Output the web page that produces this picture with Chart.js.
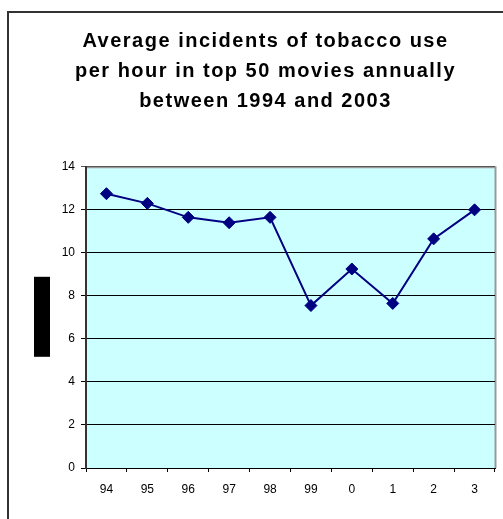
<!DOCTYPE html>
<html>
<head>
<meta charset="utf-8">
<script src="https://cdn.jsdelivr.net/npm/chart.js@4.4.1/dist/chart.umd.min.js"></script>
<style>
  html, body { margin: 0; padding: 0; overflow: hidden; background: #fff; }
  #frame { position: absolute; left: 7px; top: 11px; width: 600px; height: 600px; border: 2px solid #333; box-sizing: border-box; }
  #c { position: absolute; left: 0; top: 0; }
</style>
</head>
<body>
<div id="frame"></div>
<canvas id="c" width="503" height="519"></canvas>
<script>
const titleLines = [
  'Average incidents of tobacco use',
  'per hour in top 50 movies annually',
  'between 1994 and 2003'
];
const years = ['94', '95', '96', '97', '98', '99', '0', '1', '2', '3'];
const incidents = [12.75, 12.3, 11.65, 11.4, 11.65, 7.55, 9.25, 7.65, 10.65, 12.0];
const yTicks = [0, 2, 4, 6, 8, 10, 12, 14];

const plotBg = {
  id: 'plotBg',
  beforeDraw(chart) {
    const { ctx, chartArea: a } = chart;
    ctx.save();
    ctx.fillStyle = '#CCFFFF';
    ctx.fillRect(a.left, a.top, a.right - a.left, a.bottom - a.top);
    ctx.strokeStyle = '#999999';
    ctx.lineWidth = 2;
    ctx.beginPath();
    ctx.moveTo(a.left, a.top + 0.5);
    ctx.lineTo(a.right + 0.5, a.top + 0.5);
    ctx.lineTo(a.right + 0.5, a.bottom);
    ctx.stroke();
    // redaction block over the vertical axis title
    ctx.fillStyle = '#000';
    ctx.fillRect(a.left - 52, a.top + 110, 16, 80);
    ctx.restore();
    if (chart.titleBlock && !chart.titleBlock._spaced) {
      const tb = chart.titleBlock;
      const orig = tb.draw;
      tb.draw = function () {
        const c = this.ctx;
        c.save();
        c.letterSpacing = '1.5px';
        orig.apply(this, arguments);
        c.restore();
      };
      tb._spaced = true;
    }
  }
};

new Chart(document.getElementById('c'), {
  type: 'line',
  data: {
    labels: years,
    datasets: [{
      data: incidents,
      borderColor: '#000080',
      backgroundColor: '#000080',
      borderWidth: 2,
      pointStyle: 'rectRot',
      pointRadius: 6,
      pointHoverRadius: 6,
      pointBorderWidth: 1,
      pointBorderColor: '#000080',
      pointBackgroundColor: '#000080',
      tension: 0
    }]
  },
  options: {
    responsive: false,
    animation: false,
    events: [],
    layout: { padding: { left: 36, top: 26, right: 8, bottom: 21 } },
    plugins: {
      legend: { display: false },
      tooltip: { enabled: false },
      title: {
        display: true,
        text: titleLines,
        color: '#000',
        font: { family: '"Liberation Sans", Arial, sans-serif', size: 20, weight: 'bold', lineHeight: 1.48 },
        padding: { top: 1, bottom: 51 }
      }
    },
    scales: {
      x: {
        offset: true,
        grid: {
          offset: true,
          drawOnChartArea: false,
          drawTicks: true,
          tickLength: 4,
          color: '#000'
        },
        border: { display: true, color: '#000', width: 1 },
        ticks: {
          color: '#000',
          padding: 10,
          maxRotation: 0,
          font: { family: '"Liberation Sans", Arial, sans-serif', size: 12 }
        },
        afterFit(scale) { scale.height = 30; }
      },
      y: {
        min: 0,
        max: 14,
        afterBuildTicks(scale) { scale.ticks = yTicks.map(v => ({ value: v })); },
        grid: {
          color: (ctx) => (ctx.tick && ctx.tick.value === 14) ? '#555' : '#000',
          lineWidth: 1,
          drawTicks: true,
          tickLength: 5
        },
        border: { display: true, color: '#333', width: 2 },
        ticks: {
          color: '#000',
          padding: 6,
          font: { family: '"Liberation Sans", Arial, sans-serif', size: 12 }
        },
        afterFit(scale) { scale.width = 50; }
      }
    }
  },
  plugins: [plotBg]
});
</script>
</body>
</html>
